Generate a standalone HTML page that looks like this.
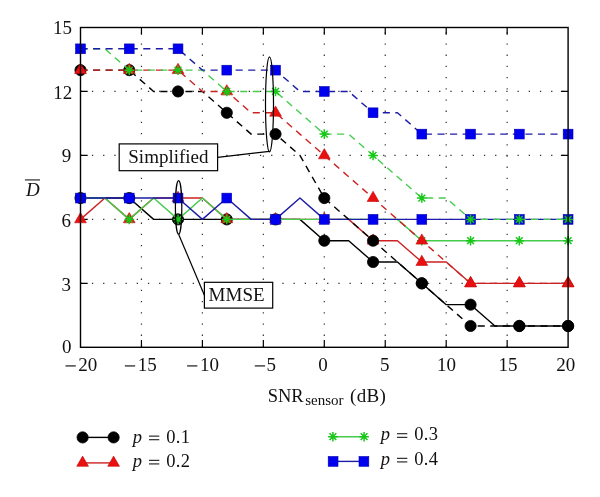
<!DOCTYPE html>
<html><head><meta charset="utf-8"><style>
html,body{margin:0;padding:0;background:#fff;}
body{width:600px;height:497px;overflow:hidden;position:relative;}
svg{position:absolute;left:0;top:0;will-change:transform;}
text{font-family:"Liberation Serif",serif;fill:#111;}
</style></head><body>
<svg width="600" height="497" viewBox="0 0 600 497">
<rect width="600" height="497" fill="#fff"/>
<g stroke="#333" stroke-width="1.2" stroke-dasharray="1.3 9.9" stroke-dashoffset="-0.2"><line x1="141.45" y1="347.3" x2="141.45" y2="27.5"/><line x1="202.4" y1="347.3" x2="202.4" y2="27.5"/><line x1="263.35" y1="347.3" x2="263.35" y2="27.5"/><line x1="324.3" y1="347.3" x2="324.3" y2="27.5"/><line x1="385.25" y1="347.3" x2="385.25" y2="27.5"/><line x1="446.2" y1="347.3" x2="446.2" y2="27.5"/><line x1="507.15" y1="347.3" x2="507.15" y2="27.5"/><line x1="80.5" y1="283.34" x2="568.1" y2="283.34"/><line x1="80.5" y1="219.38" x2="568.1" y2="219.38"/><line x1="80.5" y1="155.42" x2="568.1" y2="155.42"/><line x1="80.5" y1="91.46" x2="568.1" y2="91.46"/></g>
<path d="M141.45 347.3V340.1M141.45 27.5V34.7M202.4 347.3V340.1M202.4 27.5V34.7M263.35 347.3V340.1M263.35 27.5V34.7M324.3 347.3V340.1M324.3 27.5V34.7M385.25 347.3V340.1M385.25 27.5V34.7M446.2 347.3V340.1M446.2 27.5V34.7M507.15 347.3V340.1M507.15 27.5V34.7M80.5 283.34H87.7M568.1 283.34H560.9M80.5 219.38H87.7M568.1 219.38H560.9M80.5 155.42H87.7M568.1 155.42H560.9M80.5 91.46H87.7M568.1 91.46H560.9" stroke="#000" stroke-width="1.2" fill="none"/>
<polyline points="80.5,198.06 104.88,198.06 129.26,198.06 153.64,219.38 178.02,219.38 202.4,219.38 226.78,219.38 251.16,219.38 275.54,219.38 299.92,219.38 324.3,240.7 348.68,240.7 373.06,262.02 397.44,262.02 421.82,283.34 446.2,304.66 470.58,304.66 494.96,325.98 519.34,325.98 543.72,325.98 568.1,325.98" fill="none" stroke="#000" stroke-width="1.4" stroke-linejoin="round"/>
<circle cx="80.5" cy="198.06" r="5.6" fill="#000" stroke="#000" stroke-width="0.8"/>
<circle cx="129.26" cy="198.06" r="5.6" fill="#000" stroke="#000" stroke-width="0.8"/>
<circle cx="178.02" cy="219.38" r="5.6" fill="#000" stroke="#000" stroke-width="0.8"/>
<circle cx="226.78" cy="219.38" r="5.6" fill="#000" stroke="#000" stroke-width="0.8"/>
<circle cx="275.54" cy="219.38" r="5.6" fill="#000" stroke="#000" stroke-width="0.8"/>
<circle cx="324.3" cy="240.7" r="5.6" fill="#000" stroke="#000" stroke-width="0.8"/>
<circle cx="373.06" cy="262.02" r="5.6" fill="#000" stroke="#000" stroke-width="0.8"/>
<circle cx="421.82" cy="283.34" r="5.6" fill="#000" stroke="#000" stroke-width="0.8"/>
<circle cx="470.58" cy="304.66" r="5.6" fill="#000" stroke="#000" stroke-width="0.8"/>
<circle cx="519.34" cy="325.98" r="5.6" fill="#000" stroke="#000" stroke-width="0.8"/>
<circle cx="568.1" cy="325.98" r="5.6" fill="#000" stroke="#000" stroke-width="0.8"/>
<polyline points="80.5,219.38 104.88,198.06 129.26,219.38 153.64,198.06 178.02,198.06 202.4,198.06 226.78,219.38 251.16,219.38 275.54,219.38 299.92,219.38 324.3,219.38 348.68,219.38 373.06,240.7 397.44,240.7 421.82,262.02 446.2,262.02 470.58,283.34 494.96,283.34 519.34,283.34 543.72,283.34 568.1,283.34" fill="none" stroke="#cc2222" stroke-width="1.4" stroke-linejoin="round"/>
<polygon points="80.5,212.58 86.39,222.78 74.61,222.78" fill="#e81010" stroke="#c80808" stroke-width="0.6"/>
<polygon points="129.26,212.58 135.15,222.78 123.37,222.78" fill="#e81010" stroke="#c80808" stroke-width="0.6"/>
<polygon points="178.02,191.26 183.91,201.46 172.13,201.46" fill="#e81010" stroke="#c80808" stroke-width="0.6"/>
<polygon points="226.78,212.58 232.67,222.78 220.89,222.78" fill="#e81010" stroke="#c80808" stroke-width="0.6"/>
<polygon points="275.54,212.58 281.43,222.78 269.65,222.78" fill="#e81010" stroke="#c80808" stroke-width="0.6"/>
<polygon points="324.3,212.58 330.19,222.78 318.41,222.78" fill="#e81010" stroke="#c80808" stroke-width="0.6"/>
<polygon points="373.06,233.9 378.95,244.1 367.17,244.1" fill="#e81010" stroke="#c80808" stroke-width="0.6"/>
<polygon points="421.82,255.22 427.71,265.42 415.93,265.42" fill="#e81010" stroke="#c80808" stroke-width="0.6"/>
<polygon points="470.58,276.54 476.47,286.74 464.69,286.74" fill="#e81010" stroke="#c80808" stroke-width="0.6"/>
<polygon points="519.34,276.54 525.23,286.74 513.45,286.74" fill="#e81010" stroke="#c80808" stroke-width="0.6"/>
<polygon points="568.1,276.54 573.99,286.74 562.21,286.74" fill="#e81010" stroke="#c80808" stroke-width="0.6"/>
<polyline points="80.5,198.06 104.88,198.06 129.26,219.38 153.64,198.06 178.02,219.38 202.4,198.06 226.78,219.38 251.16,219.38 275.54,219.38 299.92,219.38 324.3,219.38 348.68,219.38 373.06,219.38 397.44,219.38 421.82,240.7 446.2,240.7 470.58,240.7 494.96,240.7 519.34,240.7 543.72,240.7 568.1,240.7" fill="none" stroke="#44cc4c" stroke-width="1.4" stroke-linejoin="round"/>
<path d="M75.7 198.06H85.3M80.5 193.26V202.86M77.11 194.67L83.89 201.45M77.11 201.45L83.89 194.67" stroke="#18c818" stroke-width="1.5" fill="none"/>
<path d="M124.46 219.38H134.06M129.26 214.58V224.18M125.87 215.99L132.65 222.77M125.87 222.77L132.65 215.99" stroke="#18c818" stroke-width="1.5" fill="none"/>
<path d="M173.22 219.38H182.82M178.02 214.58V224.18M174.63 215.99L181.41 222.77M174.63 222.77L181.41 215.99" stroke="#18c818" stroke-width="1.5" fill="none"/>
<path d="M221.98 219.38H231.58M226.78 214.58V224.18M223.39 215.99L230.17 222.77M223.39 222.77L230.17 215.99" stroke="#18c818" stroke-width="1.5" fill="none"/>
<path d="M270.74 219.38H280.34M275.54 214.58V224.18M272.15 215.99L278.93 222.77M272.15 222.77L278.93 215.99" stroke="#18c818" stroke-width="1.5" fill="none"/>
<path d="M319.5 219.38H329.1M324.3 214.58V224.18M320.91 215.99L327.69 222.77M320.91 222.77L327.69 215.99" stroke="#18c818" stroke-width="1.5" fill="none"/>
<path d="M368.26 219.38H377.86M373.06 214.58V224.18M369.67 215.99L376.45 222.77M369.67 222.77L376.45 215.99" stroke="#18c818" stroke-width="1.5" fill="none"/>
<path d="M417.02 240.7H426.62M421.82 235.9V245.5M418.43 237.31L425.21 244.09M418.43 244.09L425.21 237.31" stroke="#18c818" stroke-width="1.5" fill="none"/>
<path d="M465.78 240.7H475.38M470.58 235.9V245.5M467.19 237.31L473.97 244.09M467.19 244.09L473.97 237.31" stroke="#18c818" stroke-width="1.5" fill="none"/>
<path d="M514.54 240.7H524.14M519.34 235.9V245.5M515.95 237.31L522.73 244.09M515.95 244.09L522.73 237.31" stroke="#18c818" stroke-width="1.5" fill="none"/>
<path d="M563.3 240.7H572.9M568.1 235.9V245.5M564.71 237.31L571.49 244.09M564.71 244.09L571.49 237.31" stroke="#18c818" stroke-width="1.5" fill="none"/>
<polyline points="80.5,198.06 104.88,198.06 129.26,198.06 153.64,198.06 178.02,198.06 202.4,219.38 226.78,198.06 251.16,219.38 275.54,219.38 299.92,198.06 324.3,219.38 348.68,219.38 373.06,219.38 397.44,219.38 421.82,219.38 446.2,219.38 470.58,219.38 494.96,219.38 519.34,219.38 543.72,219.38 568.1,219.38" fill="none" stroke="#1c1ca8" stroke-width="1.4" stroke-linejoin="round"/>
<rect x="75.6" y="193.16" width="9.8" height="9.8" fill="#0000f0" stroke="#0000b0" stroke-width="0.6"/>
<rect x="124.36" y="193.16" width="9.8" height="9.8" fill="#0000f0" stroke="#0000b0" stroke-width="0.6"/>
<rect x="173.12" y="193.16" width="9.8" height="9.8" fill="#0000f0" stroke="#0000b0" stroke-width="0.6"/>
<rect x="221.88" y="193.16" width="9.8" height="9.8" fill="#0000f0" stroke="#0000b0" stroke-width="0.6"/>
<rect x="270.64" y="214.48" width="9.8" height="9.8" fill="#0000f0" stroke="#0000b0" stroke-width="0.6"/>
<rect x="319.4" y="214.48" width="9.8" height="9.8" fill="#0000f0" stroke="#0000b0" stroke-width="0.6"/>
<rect x="368.16" y="214.48" width="9.8" height="9.8" fill="#0000f0" stroke="#0000b0" stroke-width="0.6"/>
<rect x="416.92" y="214.48" width="9.8" height="9.8" fill="#0000f0" stroke="#0000b0" stroke-width="0.6"/>
<rect x="465.68" y="214.48" width="9.8" height="9.8" fill="#0000f0" stroke="#0000b0" stroke-width="0.6"/>
<rect x="514.44" y="214.48" width="9.8" height="9.8" fill="#0000f0" stroke="#0000b0" stroke-width="0.6"/>
<rect x="563.2" y="214.48" width="9.8" height="9.8" fill="#0000f0" stroke="#0000b0" stroke-width="0.6"/>
<polyline points="80.5,70.14 104.88,70.14 129.26,70.14 153.64,91.46 178.02,91.46 202.4,91.46 226.78,112.78 251.16,134.1 275.54,134.1 299.92,155.42 324.3,198.06 348.68,219.38 373.06,240.7 397.44,262.02 421.82,283.34 446.2,304.66 470.58,325.98 494.96,325.98 519.34,325.98 543.72,325.98 568.1,325.98" fill="none" stroke="#000" stroke-width="1.4" stroke-dasharray="7.1 5.45" stroke-linejoin="round"/>
<circle cx="80.5" cy="70.14" r="5.6" fill="#000" stroke="#000" stroke-width="0.8"/>
<circle cx="129.26" cy="70.14" r="5.6" fill="#000" stroke="#000" stroke-width="0.8"/>
<circle cx="178.02" cy="91.46" r="5.6" fill="#000" stroke="#000" stroke-width="0.8"/>
<circle cx="226.78" cy="112.78" r="5.6" fill="#000" stroke="#000" stroke-width="0.8"/>
<circle cx="275.54" cy="134.1" r="5.6" fill="#000" stroke="#000" stroke-width="0.8"/>
<circle cx="324.3" cy="198.06" r="5.6" fill="#000" stroke="#000" stroke-width="0.8"/>
<circle cx="373.06" cy="240.7" r="5.6" fill="#000" stroke="#000" stroke-width="0.8"/>
<circle cx="421.82" cy="283.34" r="5.6" fill="#000" stroke="#000" stroke-width="0.8"/>
<circle cx="470.58" cy="325.98" r="5.6" fill="#000" stroke="#000" stroke-width="0.8"/>
<circle cx="519.34" cy="325.98" r="5.6" fill="#000" stroke="#000" stroke-width="0.8"/>
<circle cx="568.1" cy="325.98" r="5.6" fill="#000" stroke="#000" stroke-width="0.8"/>
<polyline points="80.5,70.14 104.88,70.14 129.26,70.14 153.64,70.14 178.02,70.14 202.4,91.46 226.78,91.46 251.16,112.78 275.54,112.78 299.92,134.1 324.3,155.42 348.68,176.74 373.06,198.06 397.44,219.38 421.82,240.7 446.2,262.02 470.58,283.34 494.96,283.34 519.34,283.34 543.72,283.34 568.1,283.34" fill="none" stroke="#cc2222" stroke-width="1.4" stroke-dasharray="7.1 5.45" stroke-linejoin="round"/>
<polygon points="80.5,63.34 86.39,73.54 74.61,73.54" fill="#e81010" stroke="#c80808" stroke-width="0.6"/>
<polygon points="129.26,63.34 135.15,73.54 123.37,73.54" fill="#e81010" stroke="#c80808" stroke-width="0.6"/>
<polygon points="178.02,63.34 183.91,73.54 172.13,73.54" fill="#e81010" stroke="#c80808" stroke-width="0.6"/>
<polygon points="226.78,84.66 232.67,94.86 220.89,94.86" fill="#e81010" stroke="#c80808" stroke-width="0.6"/>
<polygon points="275.54,105.98 281.43,116.18 269.65,116.18" fill="#e81010" stroke="#c80808" stroke-width="0.6"/>
<polygon points="324.3,148.62 330.19,158.82 318.41,158.82" fill="#e81010" stroke="#c80808" stroke-width="0.6"/>
<polygon points="373.06,191.26 378.95,201.46 367.17,201.46" fill="#e81010" stroke="#c80808" stroke-width="0.6"/>
<polygon points="421.82,233.9 427.71,244.1 415.93,244.1" fill="#e81010" stroke="#c80808" stroke-width="0.6"/>
<polygon points="470.58,276.54 476.47,286.74 464.69,286.74" fill="#e81010" stroke="#c80808" stroke-width="0.6"/>
<polygon points="519.34,276.54 525.23,286.74 513.45,286.74" fill="#e81010" stroke="#c80808" stroke-width="0.6"/>
<polygon points="568.1,276.54 573.99,286.74 562.21,286.74" fill="#e81010" stroke="#c80808" stroke-width="0.6"/>
<polyline points="80.5,48.82 104.88,48.82 129.26,70.14 153.64,70.14 178.02,70.14 202.4,70.14 226.78,91.46 251.16,91.46 275.54,91.46 299.92,112.78 324.3,134.1 348.68,134.1 373.06,155.42 397.44,176.74 421.82,198.06 446.2,198.06 470.58,219.38 494.96,219.38 519.34,219.38 543.72,219.38 568.1,219.38" fill="none" stroke="#44cc4c" stroke-width="1.4" stroke-dasharray="7.1 5.45" stroke-linejoin="round"/>
<path d="M75.7 48.82H85.3M80.5 44.02V53.62M77.11 45.43L83.89 52.21M77.11 52.21L83.89 45.43" stroke="#18c818" stroke-width="1.5" fill="none"/>
<path d="M124.46 70.14H134.06M129.26 65.34V74.94M125.87 66.75L132.65 73.53M125.87 73.53L132.65 66.75" stroke="#18c818" stroke-width="1.5" fill="none"/>
<path d="M173.22 70.14H182.82M178.02 65.34V74.94M174.63 66.75L181.41 73.53M174.63 73.53L181.41 66.75" stroke="#18c818" stroke-width="1.5" fill="none"/>
<path d="M221.98 91.46H231.58M226.78 86.66V96.26M223.39 88.07L230.17 94.85M223.39 94.85L230.17 88.07" stroke="#18c818" stroke-width="1.5" fill="none"/>
<path d="M270.74 91.46H280.34M275.54 86.66V96.26M272.15 88.07L278.93 94.85M272.15 94.85L278.93 88.07" stroke="#18c818" stroke-width="1.5" fill="none"/>
<path d="M319.5 134.1H329.1M324.3 129.3V138.9M320.91 130.71L327.69 137.49M320.91 137.49L327.69 130.71" stroke="#18c818" stroke-width="1.5" fill="none"/>
<path d="M368.26 155.42H377.86M373.06 150.62V160.22M369.67 152.03L376.45 158.81M369.67 158.81L376.45 152.03" stroke="#18c818" stroke-width="1.5" fill="none"/>
<path d="M417.02 198.06H426.62M421.82 193.26V202.86M418.43 194.67L425.21 201.45M418.43 201.45L425.21 194.67" stroke="#18c818" stroke-width="1.5" fill="none"/>
<path d="M465.78 219.38H475.38M470.58 214.58V224.18M467.19 215.99L473.97 222.77M467.19 222.77L473.97 215.99" stroke="#18c818" stroke-width="1.5" fill="none"/>
<path d="M514.54 219.38H524.14M519.34 214.58V224.18M515.95 215.99L522.73 222.77M515.95 222.77L522.73 215.99" stroke="#18c818" stroke-width="1.5" fill="none"/>
<path d="M563.3 219.38H572.9M568.1 214.58V224.18M564.71 215.99L571.49 222.77M564.71 222.77L571.49 215.99" stroke="#18c818" stroke-width="1.5" fill="none"/>
<polyline points="80.5,48.82 104.88,48.82 129.26,48.82 153.64,48.82 178.02,48.82 202.4,70.14 226.78,70.14 251.16,70.14 275.54,70.14 299.92,91.46 324.3,91.46 348.68,91.46 373.06,112.78 397.44,112.78 421.82,134.1 446.2,134.1 470.58,134.1 494.96,134.1 519.34,134.1 543.72,134.1 568.1,134.1" fill="none" stroke="#1c1ca8" stroke-width="1.4" stroke-dasharray="7.1 5.45" stroke-linejoin="round"/>
<rect x="75.6" y="43.92" width="9.8" height="9.8" fill="#0000f0" stroke="#0000b0" stroke-width="0.6"/>
<rect x="124.36" y="43.92" width="9.8" height="9.8" fill="#0000f0" stroke="#0000b0" stroke-width="0.6"/>
<rect x="173.12" y="43.92" width="9.8" height="9.8" fill="#0000f0" stroke="#0000b0" stroke-width="0.6"/>
<rect x="221.88" y="65.24" width="9.8" height="9.8" fill="#0000f0" stroke="#0000b0" stroke-width="0.6"/>
<rect x="270.64" y="65.24" width="9.8" height="9.8" fill="#0000f0" stroke="#0000b0" stroke-width="0.6"/>
<rect x="319.4" y="86.56" width="9.8" height="9.8" fill="#0000f0" stroke="#0000b0" stroke-width="0.6"/>
<rect x="368.16" y="107.88" width="9.8" height="9.8" fill="#0000f0" stroke="#0000b0" stroke-width="0.6"/>
<rect x="416.92" y="129.2" width="9.8" height="9.8" fill="#0000f0" stroke="#0000b0" stroke-width="0.6"/>
<rect x="465.68" y="129.2" width="9.8" height="9.8" fill="#0000f0" stroke="#0000b0" stroke-width="0.6"/>
<rect x="514.44" y="129.2" width="9.8" height="9.8" fill="#0000f0" stroke="#0000b0" stroke-width="0.6"/>
<rect x="563.2" y="129.2" width="9.8" height="9.8" fill="#0000f0" stroke="#0000b0" stroke-width="0.6"/>
<rect x="80.5" y="27.5" width="487.6" height="319.8" fill="none" stroke="#000" stroke-width="1.4"/>
<ellipse cx="269.5" cy="104.3" rx="4" ry="47.5" fill="none" stroke="#000" stroke-width="1.2"/>
<line x1="217.7" y1="157.3" x2="269.3" y2="151.3" stroke="#000" stroke-width="1.2"/>
<rect x="119.2" y="143.9" width="98.4" height="26.8" fill="#fff" stroke="#000" stroke-width="1.2"/>
<ellipse cx="178.6" cy="207.4" rx="3.2" ry="26.8" fill="none" stroke="#000" stroke-width="1.2"/>
<line x1="178.6" y1="234.2" x2="204.4" y2="295.2" stroke="#000" stroke-width="1.2"/>
<rect x="204.4" y="282.3" width="68.3" height="25.8" fill="#fff" stroke="#000" stroke-width="1.2"/>
<line x1="82.6" y1="437.4" x2="113.6" y2="437.4" stroke="#000" stroke-width="1.4"/><circle cx="82.6" cy="437.4" r="5.6" fill="#000" stroke="#000" stroke-width="0.8"/><circle cx="113.6" cy="437.4" r="5.6" fill="#000" stroke="#000" stroke-width="0.8"/>
<line x1="82.6" y1="462.9" x2="113.6" y2="462.9" stroke="#cc2222" stroke-width="1.4"/><polygon points="82.6,456.1 88.49,466.3 76.71,466.3" fill="#e81010" stroke="#c80808" stroke-width="0.6"/><polygon points="113.6,456.1 119.49,466.3 107.71,466.3" fill="#e81010" stroke="#c80808" stroke-width="0.6"/>
<line x1="332.9" y1="436.7" x2="364.1" y2="436.7" stroke="#44cc4c" stroke-width="1.4"/><path d="M328.1 436.7H337.7M332.9 431.9V441.5M329.51 433.31L336.29 440.09M329.51 440.09L336.29 433.31" stroke="#18c818" stroke-width="1.5" fill="none"/><path d="M359.3 436.7H368.9M364.1 431.9V441.5M360.71 433.31L367.49 440.09M360.71 440.09L367.49 433.31" stroke="#18c818" stroke-width="1.5" fill="none"/>
<line x1="333.1" y1="461.4" x2="363.9" y2="461.4" stroke="#1c1ca8" stroke-width="1.4"/><rect x="328.2" y="456.5" width="9.8" height="9.8" fill="#0000f0" stroke="#0000b0" stroke-width="0.6"/><rect x="359" y="456.5" width="9.8" height="9.8" fill="#0000f0" stroke="#0000b0" stroke-width="0.6"/>
<text x="71.94" y="33.9" font-size="19" text-anchor="end">15</text>
<text x="72.15" y="98.6" font-size="19" text-anchor="end">12</text>
<text x="71.28" y="161.6" font-size="19" text-anchor="end">9</text>
<text x="71.07" y="226.6" font-size="19" text-anchor="end">6</text>
<text x="70.99" y="290.9" font-size="19" text-anchor="end">3</text>
<text x="71.42" y="352.5" font-size="19" text-anchor="end">0</text>
<rect x="65.5" y="365.35" width="10.3" height="1.15" fill="#111"/>
<text x="78.2" y="371.2" font-size="19" text-anchor="start">20</text>
<rect x="124.85" y="365.35" width="10.3" height="1.15" fill="#111"/>
<text x="137.7" y="371.2" font-size="19" text-anchor="start">15</text>
<rect x="187.1" y="365.35" width="10.3" height="1.15" fill="#111"/>
<text x="200.1" y="371.2" font-size="19" text-anchor="start">10</text>
<rect x="254.8" y="365.35" width="10.3" height="1.15" fill="#111"/>
<text x="266.4" y="371.2" font-size="19" text-anchor="start">5</text>
<text x="318.3" y="371.2" font-size="19" text-anchor="start">0</text>
<text x="379.9" y="371.2" font-size="19" text-anchor="start">5</text>
<text x="437.1" y="371.2" font-size="19" text-anchor="start">10</text>
<text x="498.6" y="371.2" font-size="19" text-anchor="start">15</text>
<text x="556.2" y="371.2" font-size="19" text-anchor="start">20</text>
<text x="168.4" y="162.8" font-size="19" text-anchor="middle">Simplified</text>
<text x="236.6" y="301.1" font-size="19" text-anchor="middle">MMSE</text>
<text x="25.9" y="195.6" font-size="19" text-anchor="start" font-style="italic">D</text>
<rect x="24.9" y="179.4" width="15.1" height="1.05" fill="#111"/>
<text x="267.7" y="401.5" font-size="18.5" text-anchor="start">SNR</text>
<text x="305.2" y="404.6" font-size="15" text-anchor="start">sensor</text>
<text x="350" y="401.5" font-size="19" text-anchor="start" letter-spacing="0.35">(dB)</text>
<text x="132.8" y="442.8" font-size="18.5" text-anchor="start" font-style="italic">p</text>
<rect x="149" y="435.6" width="10.3" height="1.05" fill="#111"/>
<rect x="149" y="439.2" width="10.3" height="1.05" fill="#111"/>
<text x="166.2" y="442.8" font-size="18.5" text-anchor="start" letter-spacing="0.4">0.1</text>
<text x="132.8" y="467" font-size="18.5" text-anchor="start" font-style="italic">p</text>
<rect x="149" y="459.8" width="10.3" height="1.05" fill="#111"/>
<rect x="149" y="463.4" width="10.3" height="1.05" fill="#111"/>
<text x="166.2" y="467" font-size="18.5" text-anchor="start" letter-spacing="0.4">0.2</text>
<text x="380.8" y="440.4" font-size="18.5" text-anchor="start" font-style="italic">p</text>
<rect x="397" y="433.2" width="10.3" height="1.05" fill="#111"/>
<rect x="397" y="436.8" width="10.3" height="1.05" fill="#111"/>
<text x="414.2" y="440.4" font-size="18.5" text-anchor="start" letter-spacing="0.4">0.3</text>
<text x="380.8" y="465" font-size="18.5" text-anchor="start" font-style="italic">p</text>
<rect x="397" y="457.8" width="10.3" height="1.05" fill="#111"/>
<rect x="397" y="461.4" width="10.3" height="1.05" fill="#111"/>
<text x="414.2" y="465" font-size="18.5" text-anchor="start" letter-spacing="0.4">0.4</text>
</svg>
</body></html>
